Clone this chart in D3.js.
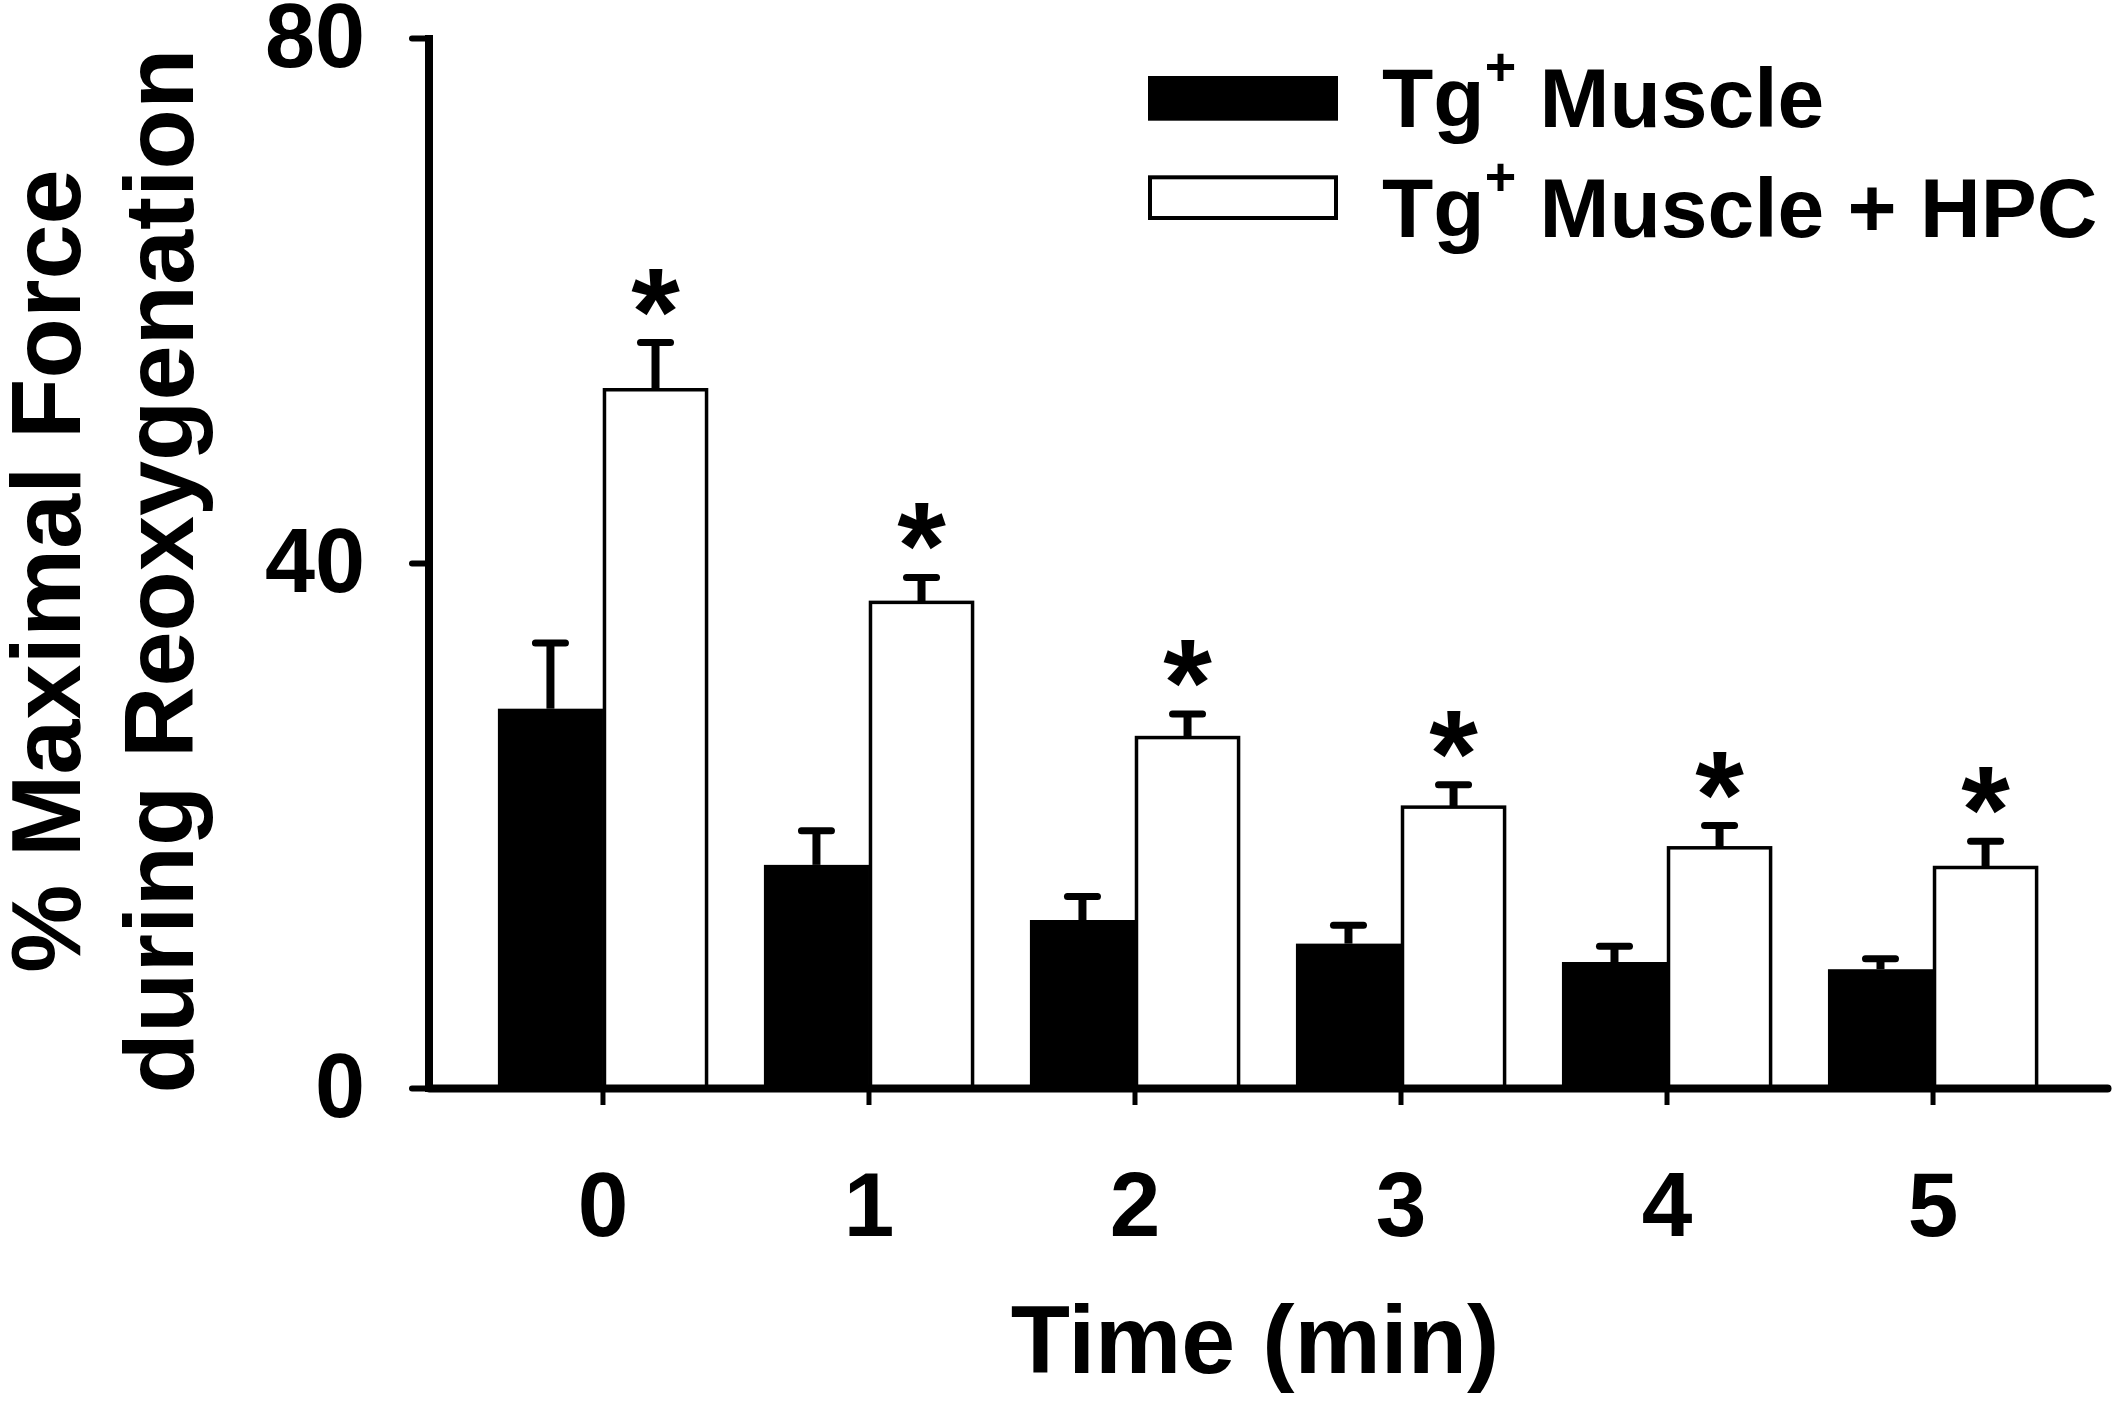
<!DOCTYPE html>
<html lang="en">
  <head>
    <meta charset="UTF-8" />
    <title>Maximal Force during Reoxygenation</title>
    <script src="https://d3js.org/d3.v7.min.js"></script>
    <style>
      body { margin: 0; background: #fff; }
      text { font-family: "Liberation Sans", Arial, sans-serif; font-weight: bold; fill: #000; }
    </style>
  </head>
  <body>
    <svg id="chart" width="2115" height="1401"></svg>
    <script>
      // values (% maximal force)
      const times = ["0", "1", "2", "3", "4", "5"];
      const tgMean = [28.9, 17.0, 12.8, 11.0, 9.6, 9.05];
      const tgErr = [5.0, 2.6, 1.8, 1.4, 1.2, 0.8];
      const hpcMean = [53.2, 37.0, 26.7, 21.4, 18.3, 16.8];
      const hpcErr = [3.6, 1.9, 1.8, 1.7, 1.7, 2.0];
      const significant = [true, true, true, true, true, true];
      const yTicks = [0, 40, 80];
      const seriesNames = ["Muscle", "Muscle + HPC"];

      const svg = d3.select("#chart");
      svg.append("rect").attr("width", 2115).attr("height", 1401).attr("fill", "#fff");

      const x0 = d3.scaleBand().domain(times).range([429, 2107])
        .paddingInner(0.21).paddingOuter(0.259);
      const x1 = d3.scaleBand().domain(["tg", "hpc"]).range([0, x0.bandwidth()]);
      const y = d3.scaleLinear().domain([0, 80]).range([1088, 38]);

      const rows = times.map((t, i) => ({
        t, tg: tgMean[i], tgE: tgErr[i], hpc: hpcMean[i], hpcE: hpcErr[i], sig: significant[i]
      }));

      // bars
      const g = svg.append("g");
      g.selectAll(".tg").data(rows).enter().append("rect")
        .attr("x", d => x0(d.t) + x1("tg"))
        .attr("y", d => y(d.tg))
        .attr("width", x1.bandwidth())
        .attr("height", d => y(0) - y(d.tg))
        .attr("fill", "#000");
      g.selectAll(".hpc").data(rows).enter().append("rect")
        .attr("x", d => x0(d.t) + x1("hpc") + 1.5)
        .attr("y", d => y(d.hpc))
        .attr("width", x1.bandwidth() - 3)
        .attr("height", d => y(0) - y(d.hpc))
        .attr("fill", "#fff").attr("stroke", "#000").attr("stroke-width", 3.5);

      // error bars (upper only)
      function errBars(key, errKey) {
        const cx = d => x0(d.t) + x1(key) + x1.bandwidth() / 2;
        g.selectAll(".stem-" + key).data(rows).enter().append("line")
          .attr("x1", cx).attr("x2", cx)
          .attr("y1", d => y(d[key])).attr("y2", d => y(d[key] + d[errKey]))
          .attr("stroke", "#000").attr("stroke-width", 8);
        g.selectAll(".cap-" + key).data(rows).enter().append("line")
          .attr("x1", d => cx(d) - 15).attr("x2", d => cx(d) + 15)
          .attr("y1", d => y(d[key] + d[errKey])).attr("y2", d => y(d[key] + d[errKey]))
          .attr("stroke", "#000").attr("stroke-width", 7).attr("stroke-linecap", "round");
      }
      errBars("tg", "tgE");
      errBars("hpc", "hpcE");

      // significance asterisks
      g.selectAll(".star").data(rows.filter(d => d.sig)).enter().append("text")
        .attr("x", d => x0(d.t) + x1("hpc") + x1.bandwidth() / 2)
        .attr("y", d => y(d.hpc + d.hpcE) + 12)
        .attr("text-anchor", "middle")
        .attr("font-size", 125)
        .text("*");

      // axes
      const yAxis = svg.append("g").attr("transform", "translate(429,0)")
        .call(d3.axisLeft(y).tickValues(yTicks).tickSize(17).tickSizeOuter(0).tickPadding(47));
      yAxis.select(".domain").attr("stroke-width", 8).attr("d", "M0," + (y(0) + 4) + "V" + (y(80) - 3));
      yAxis.selectAll(".tick line").attr("stroke-width", 6).attr("stroke-linecap", "round");
      yAxis.selectAll(".tick text").attr("font-size", 90).attr("font-family", null);

      const xAxis = svg.append("g").attr("transform", "translate(0," + y(0) + ")")
        .call(d3.axisBottom(x0).tickSize(17).tickSizeOuter(0).tickPadding(66));
      xAxis.select(".domain").attr("stroke-width", 8).attr("stroke-linecap", "round");
      xAxis.selectAll(".tick line").attr("stroke-width", 5);
      xAxis.selectAll(".tick text").attr("font-size", 91).attr("font-family", null);

      // axis titles
      svg.append("text").attr("x", 1255).attr("y", 1373)
        .attr("text-anchor", "middle").attr("font-size", 97).text("Time (min)");
      const yt = svg.append("g").attr("transform", "translate(0,571) rotate(-90)");
      yt.append("text").attr("x", 0).attr("y", 80).attr("text-anchor", "middle")
        .attr("font-size", 99).text("% Maximal Force");
      yt.append("text").attr("x", 0).attr("y", 193).attr("text-anchor", "middle")
        .attr("font-size", 99).text("during Reoxygenation");

      // legend
      const legend = svg.append("g");
      const swatch = d3.scaleBand().domain(seriesNames).range([76, 220]).paddingInner(0.55);
      legend.append("rect").attr("x", 1148).attr("y", swatch(seriesNames[0]))
        .attr("width", 190).attr("height", swatch.bandwidth()).attr("fill", "#000");
      legend.append("rect").attr("x", 1150).attr("y", swatch(seriesNames[1]) + 2)
        .attr("width", 186).attr("height", swatch.bandwidth() - 4)
        .attr("fill", "#fff").attr("stroke", "#000").attr("stroke-width", 4);
      seriesNames.forEach((name, i) => {
        const t = legend.append("text").attr("x", 1382).attr("y", 127 + i * 110).attr("font-size", 84);
        t.append("tspan").text("Tg");
        t.append("tspan").attr("font-size", 54).attr("dy", -42).text("+");
        t.append("tspan").attr("dy", 42).text(" " + name);
      });
    </script>
  </body>
</html>
